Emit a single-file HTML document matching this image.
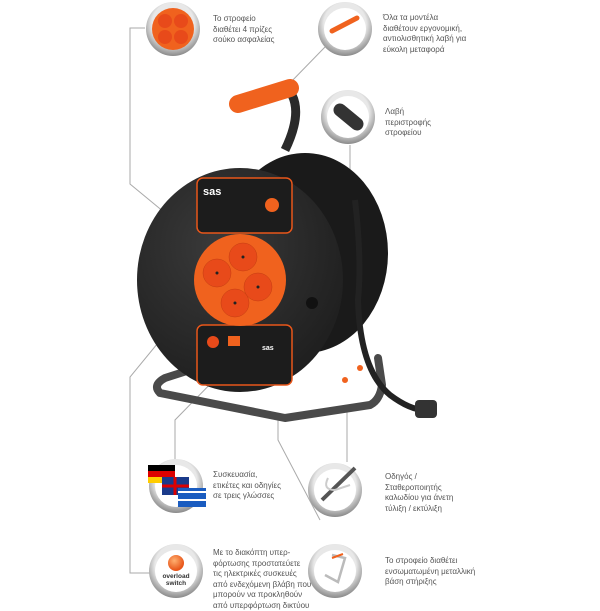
<!DOCTYPE html>
<html><head><meta charset="utf-8"><style>
html,body{margin:0;padding:0;background:#fff;width:600px;height:600px;overflow:hidden}
.t{position:absolute;font-family:"Liberation Sans",sans-serif;font-size:8px;line-height:10.5px;color:#555}
</style></head><body>
<svg width="600" height="600" style="position:absolute;left:0;top:0">
<defs>
<radialGradient id="ring" cx="50%" cy="40%" r="60%"><stop offset="0.65" stop-color="#e8e8e8"/><stop offset="0.85" stop-color="#b0b0b0"/><stop offset="1" stop-color="#8a8a8a"/></radialGradient>
<radialGradient id="ob" cx="40%" cy="35%" r="60%"><stop offset="0" stop-color="#ffb070"/><stop offset="1" stop-color="#e8561a"/></radialGradient>
<radialGradient id="disk" cx="40%" cy="35%" r="70%"><stop offset="0" stop-color="#3a3a3a"/><stop offset="1" stop-color="#1e1e1e"/></radialGradient>
</defs>
<g stroke="#aaa" stroke-width="1" fill="none">
<polyline points="145,28 130,28 130,184 210,250"/>
<polyline points="185,310 130,377 130,573 150,573"/>
<line x1="325" y1="47" x2="288" y2="85"/>
<polyline points="350,145 350,300 312,312"/>
<polyline points="175,463 175,420 222,372"/>
<polyline points="278,420 278,440 320,520"/>
<polyline points="347,412 347,462"/>
</g>
<!-- back disk -->
<ellipse cx="305" cy="253" rx="83" ry="100" fill="#1a1a1a"/>
<!-- stand -->
<path d="M190,370 L165,378 Q152,385 160,393 L285,418 L370,405 Q380,400 382,385 L378,358" fill="none" stroke="#4a4a4a" stroke-width="8" stroke-linejoin="round" stroke-linecap="round"/>
<!-- handle arm -->
<path d="M292,95 Q302,115 285,150" stroke="#2a2a2a" stroke-width="9" fill="none"/>
<path d="M238,104 L290,88" stroke="#f0621e" stroke-width="18" stroke-linecap="round"/>
<!-- cable -->
<path d="M355,200 Q362,260 358,300 Q360,370 390,395 Q410,410 425,410" stroke="#222" stroke-width="6" fill="none"/>
<rect x="415" y="400" width="22" height="18" rx="4" fill="#333"/>
<circle cx="345" cy="380" r="3" fill="#f0621e"/><circle cx="360" cy="368" r="3" fill="#f0621e"/>
<!-- front disk -->
<ellipse cx="240" cy="280" rx="103" ry="112" fill="url(#disk)"/>
<rect x="197" y="178" width="95" height="55" rx="6" fill="#1c1c1c" stroke="#e8561a" stroke-width="1.5"/>
<rect x="197" y="325" width="95" height="60" rx="6" fill="#1c1c1c" stroke="#e8561a" stroke-width="1.5"/>
<text x="203" y="195" fill="#fff" font-family="Liberation Sans" font-size="11" font-weight="bold">sas</text>
<text x="262" y="350" fill="#fff" font-family="Liberation Sans" font-size="7" font-weight="bold">sas</text>
<circle cx="272" cy="205" r="7" fill="#f0621e"/>
<circle cx="213" cy="342" r="6" fill="#e84a1a"/><rect x="228" y="336" width="12" height="10" fill="#f0621e"/>
<circle cx="240" cy="280" r="46" fill="#f0621e"/>
<g fill="#e84a1a" stroke="#c43c10" stroke-width="0.5">
<circle cx="217" cy="273" r="14"/><circle cx="243" cy="257" r="14"/><circle cx="258" cy="287" r="14"/><circle cx="235" cy="303" r="14"/>
</g>
<g fill="#222"><circle cx="217" cy="273" r="1.5"/><circle cx="243" cy="257" r="1.5"/><circle cx="258" cy="287" r="1.5"/><circle cx="235" cy="303" r="1.5"/></g>
<circle cx="312" cy="303" r="6" fill="#111"/>
<!-- circles -->
<g>
<circle cx="173" cy="29" r="27" fill="url(#ring)"/><circle cx="173" cy="29" r="21" fill="#f0621e"/>
<circle cx="165" cy="21" r="7" fill="#e84a1a"/><circle cx="181" cy="21" r="7" fill="#e84a1a"/><circle cx="165" cy="37" r="7" fill="#e84a1a"/><circle cx="181" cy="37" r="7" fill="#e84a1a"/>
<circle cx="345" cy="29" r="27" fill="url(#ring)"/><circle cx="345" cy="29" r="21" fill="#fff"/>
<line x1="332" y1="31" x2="357" y2="18" stroke="#f0621e" stroke-width="5" stroke-linecap="round"/>
<circle cx="348" cy="117" r="27" fill="url(#ring)"/><circle cx="348" cy="117" r="21" fill="#fff"/>
<line x1="340" y1="110" x2="357" y2="124" stroke="#333" stroke-width="13" stroke-linecap="round"/>
<circle cx="176" cy="486" r="27" fill="url(#ring)"/><circle cx="176" cy="486" r="21" fill="#fff"/>
<rect x="148" y="465" width="27" height="18" fill="#000"/><rect x="148" y="471" width="27" height="6" fill="#d00"/><rect x="148" y="477" width="27" height="6" fill="#fc0"/>
<rect x="162" y="477" width="27" height="18" fill="#1a3a8a"/><path d="M162,486 h27 M175,477 v18" stroke="#d00" stroke-width="3"/>
<rect x="178" y="488" width="28" height="19" fill="#1a5cc0"/><path d="M178,492 h28 M178,500 h28" stroke="#fff" stroke-width="2"/>
<circle cx="335" cy="490" r="27" fill="url(#ring)"/><circle cx="335" cy="490" r="21" fill="#fff"/>
<path d="M322,500 L355,468" stroke="#555" stroke-width="4"/>
<path d="M328,478 Q322,490 335,490 L350,485" stroke="#ccc" stroke-width="2" fill="none"/>
<circle cx="176" cy="571" r="27" fill="url(#ring)"/><circle cx="176" cy="571" r="21" fill="#fff"/>
<circle cx="176" cy="563" r="8" fill="url(#ob)"/>
<text x="176" y="578" text-anchor="middle" font-family="Liberation Sans" font-size="6.5" font-weight="bold" fill="#333">overload</text>
<text x="176" y="585" text-anchor="middle" font-family="Liberation Sans" font-size="6.5" font-weight="bold" fill="#333">switch</text>
<circle cx="335" cy="571" r="27" fill="url(#ring)"/><circle cx="335" cy="571" r="21" fill="#fff"/>
<path d="M332,555 L345,558 L338,582 L325,575" stroke="#bbb" stroke-width="2.5" fill="none"/>
<line x1="332" y1="558" x2="343" y2="554" stroke="#f0621e" stroke-width="2"/>
</g>
</svg>
<div class="t" style="left:213px;top:14px">Το στροφείο<br>διαθέτει 4 πρίζες<br>σούκο ασφαλείας</div>
<div class="t" style="left:383px;top:13px">Όλα τα μοντέλα<br>διαθέτουν εργονομική,<br>αντιολισθητική λαβή για<br>εύκολη μεταφορά</div>
<div class="t" style="left:385px;top:107px">Λαβή<br>περιστροφής<br>στροφείου</div>
<div class="t" style="left:213px;top:470px">Συσκευασία,<br>ετικέτες και οδηγίες<br>σε τρεις γλώσσες</div>
<div class="t" style="left:385px;top:472px">Οδηγός /<br>Σταθεροποιητής<br>καλωδίου για άνετη<br>τύλιξη / εκτύλιξη</div>
<div class="t" style="left:213px;top:548px">Με το διακόπτη υπερ-<br>φόρτωσης προστατεύετε<br>τις ηλεκτρικές συσκευές<br>από ενδεχόμενη βλάβη που<br>μπορούν να προκληθούν<br>από υπερφόρτωση δικτύου</div>
<div class="t" style="left:385px;top:556px">Το στροφείο διαθέτει<br>ενσωματωμένη μεταλλική<br>βάση στήριξης</div>
</body></html>
